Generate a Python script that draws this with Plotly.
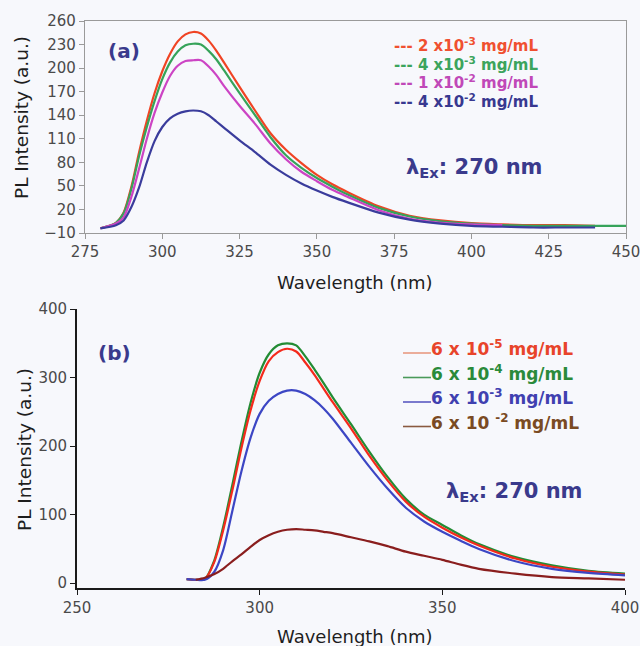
import plotly.graph_objects as go

W, H = 640, 646
FONT = "DejaVu Sans, Liberation Sans, Arial, sans-serif"

# ---------------- Panel (a) data ----------------
wl_a = [280, 285, 287.5, 290, 292.5, 295, 297.5, 300, 302.5, 305, 307.5, 310, 312.5, 315,
        317.5, 320, 325, 330, 335, 340, 345, 350, 355, 360, 370, 380, 390, 400, 410, 420,
        430, 440, 450]
a_2e3 = [-4, 3, 16, 49, 93, 133, 168, 196, 218, 234, 243, 246, 244, 235, 222, 207, 176, 146,
         117, 96, 79, 64, 52, 42, 24, 12, 6, 2.5, 1, 0, 0, -1]
a_4e3 = [-4, 3, 15, 46, 88, 125, 158, 186, 207, 221, 229, 231, 230, 222, 211, 197, 168, 140,
         112, 89, 73, 60, 49, 39, 22, 11, 5, 2, 0, -1, -1, -1, -1]
a_1e2 = [-4, 2, 10, 36, 72, 110, 143, 169, 190, 203, 209, 210, 210, 202, 191, 177, 152, 129,
         104, 84, 68, 56, 45, 36, 19, 8, 3, 1, 0]
a_4e2 = [-4, 0, 6, 23, 48, 80, 107, 125, 136, 142, 145, 146, 145, 140, 132, 124, 108, 93,
         77, 64, 53, 44, 36, 29, 16, 7, 2, -1, -2, -3, -3, -3]
labels_a = ["--- 2 x10<sup>-3</sup> mg/mL", "--- 4 x10<sup>-3</sup> mg/mL",
            "--- 1 x10<sup>-2</sup> mg/mL", "--- 4 x10<sup>-2</sup> mg/mL"]
colors_a = ["#f04424", "#36a35a", "#cc44c4", "#3a3c9c"]
text_colors_a = ["#f05030", "#3ca45c", "#c048b8", "#383890"]

# ---------------- Panel (b) data ----------------
wl_b = [280, 282.5, 285, 287.5, 290, 292.5, 295, 297.5, 300, 302.5, 305, 307.5, 310, 312.5,
        315, 317.5, 320, 325, 330, 335, 340, 345, 350, 355, 360, 370, 380, 390, 400]
b_6e5 = [6, 5, 6, 30, 77, 135, 197, 252, 295, 324, 337, 342, 338, 322, 304, 284, 264, 226,
         186, 150, 119, 97, 81, 67, 55, 36, 24, 17, 12.5]
b_6e4 = [6, 5, 6, 32, 82, 143, 206, 263, 307, 334, 347, 350, 347, 331, 312, 292, 271, 232,
         192, 155, 123, 100, 85, 70, 57, 38, 26, 18, 14]
b_6e3 = [6, 5, 5, 16, 48, 105, 163, 212, 247, 266, 276, 281, 281, 276, 267, 255, 240, 205,
         170, 138, 110, 90, 75, 62, 50, 32, 21, 15, 11.5]
wl_b4 = [282.5, 285, 287.5, 290, 292.5, 295, 297.5, 300, 302.5, 305, 307.5, 310, 312.5, 315,
         317.5, 320, 325, 330, 335, 340, 345, 350, 355, 360, 370, 380, 390, 400]
b_6e2 = [5, 8, 13, 21, 32, 42, 53, 63, 70, 75, 78, 79, 78, 77, 75, 73, 67, 61, 54, 46, 40,
         34, 27, 21, 14, 9, 7, 5]
labels_b = ["6 x 10<sup>-5</sup> mg/mL", "6 x 10<sup>-4</sup> mg/mL",
            "6 x 10<sup>-3</sup> mg/mL", "6 x 10 <sup>-2</sup> mg/mL"]
colors_b = ["#f42a1c", "#238c34", "#3c46c4", "#8a1e1e"]
text_colors_b = ["#e8442a", "#2a8a3a", "#4040b0", "#7a4a22"]
key_colors_b = ["#e89a80", "#4a9a5a", "#5a5ac0", "#8a5a40"]


def px(x):
    return x / W


def py(y):
    return 1 - y / H


fig = go.Figure()

for ys, c in zip([a_2e3, a_4e3, a_1e2, a_4e2], colors_a):
    fig.add_trace(go.Scatter(x=wl_a[:len(ys)], y=ys, mode="lines", xaxis="x", yaxis="y",
                             line=dict(color=c, width=2.2, shape="spline", smoothing=0.8),
                             showlegend=False, hoverinfo="skip"))

for xs, ys, c in zip([wl_b, wl_b, wl_b, wl_b4], [b_6e4, b_6e5, b_6e3, b_6e2],
                     [colors_b[1], colors_b[0], colors_b[2], colors_b[3]]):
    fig.add_trace(go.Scatter(x=xs, y=ys, mode="lines", xaxis="x2", yaxis="y2",
                             line=dict(color=c, width=2.2, shape="spline", smoothing=0.8),
                             showlegend=False, hoverinfo="skip"))

tickfont = dict(family=FONT, size=15, color="#4a4a4a")

fig.update_layout(
    width=W, height=H,
    margin=dict(l=0, r=0, t=0, b=0),
    paper_bgcolor="#f7f8fc",
    plot_bgcolor="#f7f8fc",
    showlegend=False,
    xaxis=dict(domain=[px(85), px(626)], range=[275, 450], tickmode="array",
               tickvals=[275, 300, 325, 350, 375, 400, 425, 450],
               showline=True, linecolor="#9a9a9a", linewidth=1.2, mirror=True,
               ticks="outside", ticklen=5, tickcolor="#9a9a9a", showgrid=False,
               zeroline=False, tickfont=tickfont, anchor="y", automargin=False,
               ticklabeloverflow="allow"),
    yaxis=dict(domain=[py(233), py(21)], range=[-10, 260], tickmode="array",
               tickvals=[-10, 20, 50, 80, 110, 140, 170, 200, 230, 260],
               showline=True, linecolor="#9a9a9a", linewidth=1.2, mirror=True,
               ticks="outside", ticklen=5, tickcolor="#9a9a9a", showgrid=False,
               zeroline=False, tickfont=tickfont, anchor="x", automargin=False,
               ticklabeloverflow="allow"),
    xaxis2=dict(domain=[px(77), px(625)], range=[250, 400], tickmode="array",
                tickvals=[250, 300, 350, 400],
                showline=True, linecolor="#1a1a1a", linewidth=1.8, mirror=False,
                ticks="outside", ticklen=5, tickcolor="#1a1a1a", showgrid=False,
                zeroline=False, tickfont=tickfont, anchor="y2", automargin=False,
                ticklabeloverflow="allow"),
    yaxis2=dict(domain=[py(588), py(309)], range=[-7, 400], tickmode="array",
                tickvals=[0, 100, 200, 300, 400],
                showline=True, linecolor="#1a1a1a", linewidth=1.8, mirror=False,
                ticks="outside", ticklen=5, tickcolor="#1a1a1a", showgrid=False,
                zeroline=False, tickfont=tickfont, anchor="x2", automargin=False,
                ticklabeloverflow="allow"),
)

ann = []
xt_font = dict(family=FONT, size=18, color="#1e1e1e")
yt_font = dict(family=FONT, size=18.5, color="#1e1e1e")
# axis titles
ann.append(dict(x=px(355), y=py(283), text="Wavelength (nm)", font=xt_font,
                xref="paper", yref="paper", showarrow=False, xanchor="center", yanchor="middle"))
ann.append(dict(x=px(21), y=py(118), text="PL Intensity (a.u.)", font=yt_font, textangle=-90,
                xref="paper", yref="paper", showarrow=False, xanchor="center", yanchor="middle"))
ann.append(dict(x=px(355), y=py(636), text="Wavelength (nm)", font=xt_font,
                xref="paper", yref="paper", showarrow=False, xanchor="center", yanchor="middle"))
ann.append(dict(x=px(24), y=py(450), text="PL Intensity (a.u.)", font=yt_font, textangle=-90,
                xref="paper", yref="paper", showarrow=False, xanchor="center", yanchor="middle"))

# panel labels
lab_font = dict(family=FONT, size=20, color="#3a3a8c")
ann.append(dict(x=px(106), y=py(51), text="<b>(a)</b>", font=lab_font, xref="paper",
                yref="paper", showarrow=False, xanchor="left", yanchor="middle"))
ann.append(dict(x=px(96), y=py(353), text="<b>(b)</b>", font=lab_font, xref="paper",
                yref="paper", showarrow=False, xanchor="left", yanchor="middle"))

# excitation labels
ex_font = dict(family=FONT, size=21, color="#3a3a8c")
ann.append(dict(x=px(404), y=py(168), text="<b>λ<sub>Ex</sub>: 270 nm</b>", font=ex_font,
                xref="paper", yref="paper", showarrow=False, xanchor="left", yanchor="middle"))
ann.append(dict(x=px(444), y=py(492), text="<b>λ<sub>Ex</sub>: 270 nm</b>", font=ex_font,
                xref="paper", yref="paper", showarrow=False, xanchor="left", yanchor="middle"))

# legend (a)
rows_a = [45, 63.5, 82, 100.5]
for lab, c, yy in zip(labels_a, text_colors_a, rows_a):
    ann.append(dict(x=px(392), y=py(yy), text="<b>" + lab + "</b>",
                    font=dict(family=FONT, size=15, color=c), xref="paper", yref="paper",
                    showarrow=False, xanchor="left", yanchor="middle"))

# legend (b)
rows_b = [348, 372.5, 397, 421.5]
shapes = []
for lab, c, kc, yy in zip(labels_b, text_colors_b, key_colors_b, rows_b):
    ann.append(dict(x=px(429), y=py(yy), text="<b>" + lab + "</b>",
                    font=dict(family=FONT, size=17, color=c), xref="paper", yref="paper",
                    showarrow=False, xanchor="left", yanchor="middle"))
    shapes.append(dict(type="line", xref="paper", yref="paper", x0=px(403), x1=px(431),
                       y0=py(yy + 5), y1=py(yy + 5), line=dict(color=kc, width=1.6)))

fig.update_layout(annotations=ann, shapes=shapes)

fig.write_html("out.html", config={"displayModeBar": False},
               post_script="document.body.style.margin='0px';"
                           "document.body.style.overflow='hidden';")
